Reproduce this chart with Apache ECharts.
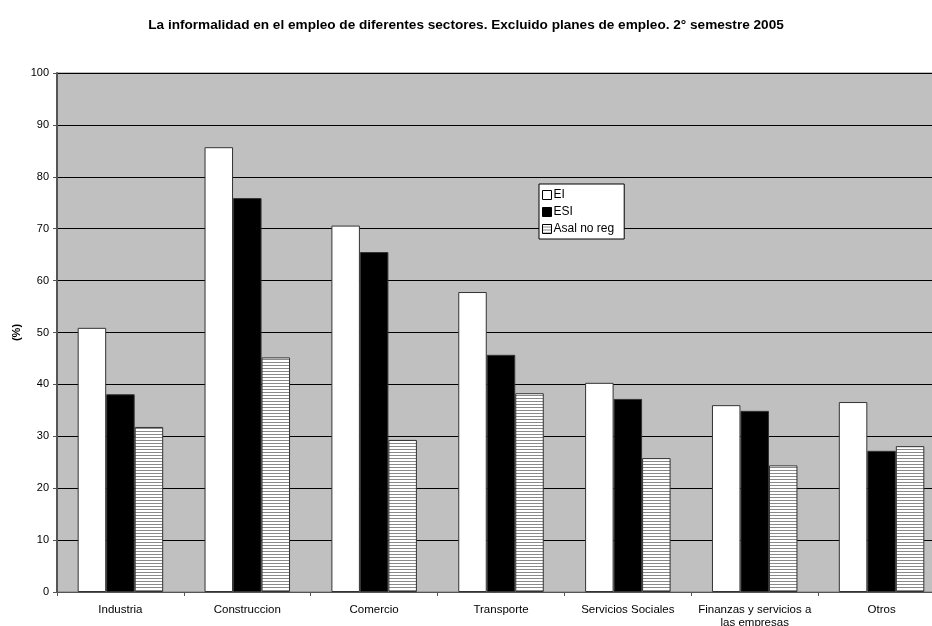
<!DOCTYPE html>
<html>
<head>
<meta charset="utf-8">
<script src="https://cdn.jsdelivr.net/npm/echarts@6/dist/echarts.min.js"></script>
<style>
  html, body { margin: 0; padding: 0; background: #fff; }
  #chart { width: 932px; height: 626px; }
</style>
</head>
<body>
<div id="chart"></div>
<script>
// Sectores y porcentajes de informalidad (2° semestre 2005)
const categories = ['Industria', 'Construccion', 'Comercio', 'Transporte', 'Servicios Sociales', 'Finanzas y servicios a\nlas empresas', 'Otros'];
const eiValues = [50.9, 85.7, 70.6, 57.8, 40.3, 36.0, 36.6];
const esiValues = [38.1, 75.9, 65.5, 45.7, 37.2, 34.9, 27.2];
const asalValues = [31.8, 45.2, 29.3, 38.3, 25.8, 24.4, 28.1];
const yTicks = [0, 10, 20, 30, 40, 50, 60, 70, 80, 90, 100];

// Relleno rayado horizontal para "Asal no reg"
function stripePattern() {
  const c = document.createElement('canvas');
  c.width = 4; c.height = 3;
  const ctx = c.getContext('2d');
  ctx.fillStyle = '#ffffff';
  ctx.fillRect(0, 0, 4, 3);
  ctx.fillStyle = '#8a8a8a';
  ctx.fillRect(0, 2, 4, 1);
  return c;
}

const font = 'Liberation Sans, Arial, sans-serif';
const chart = echarts.init(document.getElementById('chart'));

const barStyle = (color) => ({ color: color, borderColor: '#333', borderWidth: 1 });

chart.setOption({
  animation: false,
  textStyle: { fontFamily: font },
  title: {
    text: 'La informalidad en el empleo de diferentes sectores. Excluido planes de empleo. 2° semestre 2005',
    left: 'center',
    top: 13,
    textStyle: { fontFamily: font, fontSize: 13.6, fontWeight: 'bold', color: '#000' }
  },
  legend: {
    orient: 'vertical',
    left: 539,
    top: 184,
    padding: [5, 10, 4, 3],
    itemGap: 5,
    itemWidth: 9,
    itemHeight: 9,
    backgroundColor: '#fff',
    borderColor: '#000',
    borderWidth: 1,
    borderRadius: 0,
    textStyle: { fontFamily: font, fontSize: 12, color: '#000', padding: [0, 0, 0, -3] },
    itemStyle: { borderColor: '#000', borderWidth: 1 },
    data: [
      { name: 'EI', icon: 'rect' },
      { name: 'ESI', icon: 'rect' },
      { name: 'Asal no reg', icon: 'rect' }
    ]
  },
  grid: {
    left: 57,
    top: 73,
    width: 888,
    height: 519,
    outerBoundsMode: 'none',
    show: true,
    backgroundColor: '#c0c0c0',
    borderColor: '#7a7a7a',
    borderWidth: 1,
    containLabel: false
  },
  xAxis: {
    type: 'category',
    data: categories,
    axisLine: { lineStyle: { color: '#555', width: 1 } },
    axisTick: { show: true, length: 4, lineStyle: { color: '#555' } },
    axisLabel: { fontFamily: font, fontSize: 11.5, color: '#000', margin: 11, lineHeight: 13, interval: 0 }
  },
  yAxis: {
    type: 'value',
    min: yTicks[0],
    max: yTicks[yTicks.length - 1],
    interval: 10,
    name: '(%)',
    nameLocation: 'middle',
    nameGap: 35,
    nameMoveOverlap: false,
    nameRotate: 90,
    nameTextStyle: { fontFamily: font, fontSize: 11, fontWeight: 'bold', color: '#000' },
    axisLine: { show: true, lineStyle: { color: '#555', width: 2 } },
    axisTick: { show: true, length: 4, inside: false, lineStyle: { color: '#555' } },
    axisLabel: { fontFamily: font, fontSize: 11, color: '#000', margin: 8 },
    splitLine: { show: true, lineStyle: { color: '#000', width: 1 } }
  },
  series: [
    {
      name: 'EI', type: 'bar', data: eiValues,
      barWidth: 28.5, barGap: '0%',
      itemStyle: barStyle('#ffffff')
    },
    {
      name: 'ESI', type: 'bar', data: esiValues,
      barWidth: 28.5, barGap: '0%',
      itemStyle: barStyle('#000000')
    },
    {
      name: 'Asal no reg', type: 'bar', data: asalValues,
      barWidth: 28.5, barGap: '0%',
      itemStyle: barStyle({ image: stripePattern(), repeat: 'repeat' })
    }
  ]
});
</script>
</body>
</html>
